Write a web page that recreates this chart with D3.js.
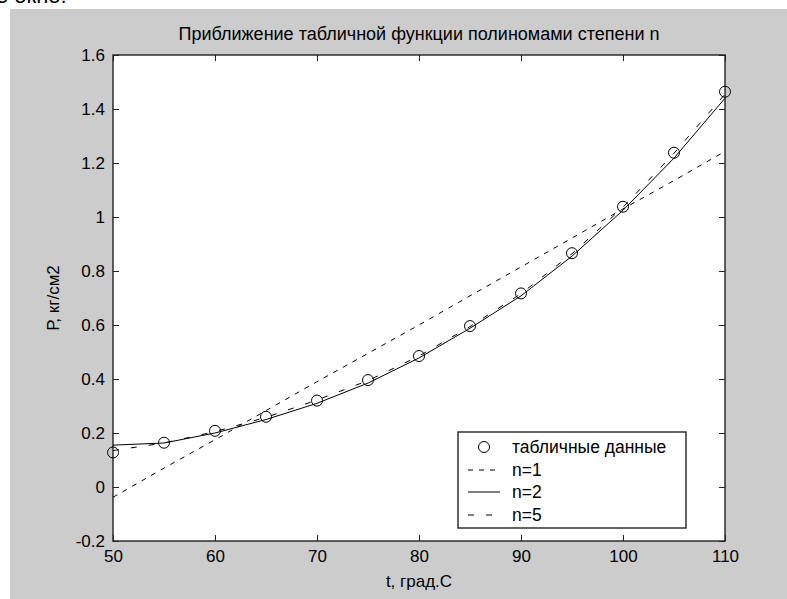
<!DOCTYPE html>
<html><head><meta charset="utf-8">
<script src="https://cdn.jsdelivr.net/npm/d3@7"></script>
<style>
html,body{margin:0;padding:0;background:#fff;}
svg text{font-family:"Liberation Sans",Arial,sans-serif;fill:#000;}
</style></head>
<body>
<svg id="chart" width="787" height="599"></svg>
<script>
const tValues = [50,55,60,65,70,75,80,85,90,95,100,105,110];
const tableData = [0.128,0.164,0.208,0.26,0.32,0.396,0.485,0.596,0.717,0.866,1.038,1.238,1.464];
const fitN1 = [-0.038,0.07,0.175,0.283,0.39,0.495,0.6,0.708,0.815,0.922,1.03,1.135,1.243];
const fitN2 = [0.155,0.163,0.2,0.25,0.31,0.385,0.478,0.588,0.708,0.855,1.025,1.218,1.44];
const fitN5 = [0.135,0.163,0.205,0.258,0.322,0.394,0.485,0.594,0.716,0.864,1.036,1.236,1.455];
const xTicks = [50,60,70,80,90,100,110];
const yTicks = [-0.2,0,0.2,0.4,0.6,0.8,1,1.2,1.4,1.6];
const yTickLabels = ["-0.2","0","0.2","0.4","0.6","0.8","1","1.2","1.4","1.6"];
const titleText = "Приближение табличной функции полиномами степени n";
const xLabel = "t, град.С";
const yLabel = "Р, кг/см2";
const legendLabels = ["табличные данные","n=1","n=2","n=5"];

const svg = d3.select("#chart");
// figure background
svg.append("rect").attr("x",10).attr("y",9).attr("width",777).attr("height",590).attr("fill","#cccccc");
svg.append("text").attr("x",-4).attr("y",3).attr("font-size",22).attr("font-family","Liberation Serif")
  .text("е окно:");

const L=113,R=725,T=55,B=541;
const x = d3.scaleLinear().domain([50,110]).range([L,R]);
const y = d3.scaleLinear().domain([-0.2,1.6]).range([B,T]);

svg.append("rect").attr("x",L).attr("y",T).attr("width",R-L).attr("height",B-T).attr("fill","#fff");

const clip = svg.append("defs").append("clipPath").attr("id","clip");
clip.append("rect").attr("x",L).attr("y",T).attr("width",R-L).attr("height",B-T);

const axisStroke = "#222";
const gB = svg.append("g").attr("transform",`translate(0,${B})`)
  .call(d3.axisBottom(x).tickValues(xTicks).tickSize(-6).tickPadding(9).tickFormat(d=>String(d)));
const gT = svg.append("g").attr("transform",`translate(0,${T})`)
  .call(d3.axisTop(x).tickValues(xTicks).tickSize(-6).tickFormat(""));
const gL = svg.append("g").attr("transform",`translate(${L},0)`)
  .call(d3.axisLeft(y).tickValues(yTicks).tickSize(-6).tickPadding(8).tickFormat((d,i)=>yTickLabels[i]));
const gR = svg.append("g").attr("transform",`translate(${R},0)`)
  .call(d3.axisRight(y).tickValues(yTicks).tickSize(-6).tickFormat(""));
[gB,gT,gL,gR].forEach(g=>{
  g.select(".domain").remove();
  g.selectAll(".tick line").attr("stroke",axisStroke).attr("stroke-width",1);
  g.selectAll("text").attr("font-size",17).attr("font-family","Liberation Sans, Arial").attr("fill","#000");
});
gB.selectAll("text").attr("dy","0.71em");
svg.append("rect").attr("x",L).attr("y",T).attr("width",R-L).attr("height",B-T)
  .attr("fill","none").attr("stroke",axisStroke).attr("stroke-width",1.4);

const plot = svg.append("g").attr("clip-path","url(#clip)");
const line = d3.line().x((d,i)=>x(tValues[i])).y(d=>y(d));
plot.append("path").datum(fitN1).attr("d",line).attr("fill","none").attr("stroke","#000").attr("stroke-width",1).attr("stroke-dasharray","5,6");
plot.append("path").datum(fitN2).attr("d",line).attr("fill","none").attr("stroke","#000").attr("stroke-width",1);
plot.append("path").datum(fitN5).attr("d",line).attr("fill","none").attr("stroke","#000").attr("stroke-width",1).attr("stroke-dasharray","6,12");
svg.append("g").selectAll("circle").data(tableData).join("circle")
  .attr("cx",(d,i)=>x(tValues[i])).attr("cy",d=>y(d)).attr("r",5.5)
  .attr("fill","none").attr("stroke","#000").attr("stroke-width",1);

svg.append("text").attr("x",(L+R)/2).attr("y",40).attr("text-anchor","middle").attr("font-size",18).text(titleText);
svg.append("text").attr("x",(L+R)/2).attr("y",587).attr("text-anchor","middle").attr("font-size",17).text(xLabel);
svg.append("text").attr("transform",`translate(59,${(T+B)/2}) rotate(-90)`).attr("text-anchor","middle").attr("font-size",17).text(yLabel);

const lg = svg.append("g");
lg.append("rect").attr("x",458).attr("y",432).attr("width",228).attr("height",96)
  .attr("fill","#fff").attr("stroke",axisStroke).attr("stroke-width",1.4);
const rowY = [447,470,492,515];
const dashes = [null,"5,6",null,"6,12"];
legendLabels.forEach((lab,i)=>{
  if(i===0){
    lg.append("circle").attr("cx",484).attr("cy",rowY[i]).attr("r",5.5).attr("fill","none").attr("stroke","#000");
  } else {
    lg.append("line").attr("x1",468).attr("x2",500).attr("y1",rowY[i]).attr("y2",rowY[i])
      .attr("stroke","#000").attr("stroke-width",1).attr("stroke-dasharray",dashes[i]);
  }
  lg.append("text").attr("x",512).attr("y",rowY[i]).attr("dy","0.35em").attr("font-size",17.5).text(lab);
});
</script>
</body></html>
